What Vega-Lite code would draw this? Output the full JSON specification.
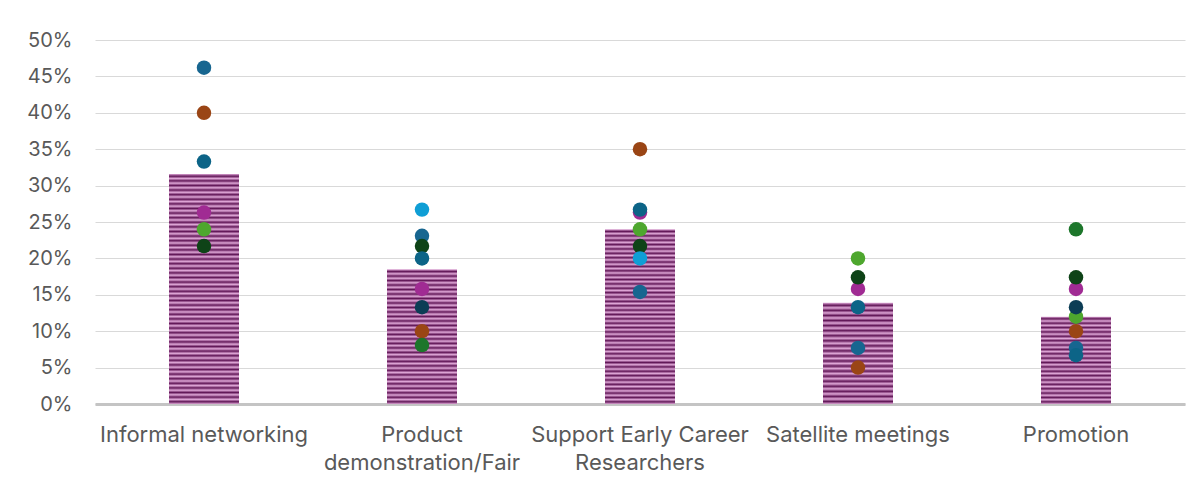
{
  "$schema": "https://vega.github.io/schema/vega-lite/v6.json",
  "width": 1090,
  "height": 364,
  "autosize": "none",
  "padding": {"left": 95, "top": 40, "right": 17, "bottom": 84},
  "background": "#ffffff",
  "config": {
    "view": {"stroke": null},
    "font": "Inter",
    "axis": {"labelFont": "Inter", "labelColor": "#595959", "titleColor": "#595959"}
  },
  "datasets": {
    "bars": [
      {"cat": "Informal networking", "pct": 0.316},
      {"cat": "Product demonstration/Fair", "pct": 0.185},
      {"cat": "Support Early Career Researchers", "pct": 0.24},
      {"cat": "Satellite meetings", "pct": 0.139},
      {"cat": "Promotion", "pct": 0.12}
    ],
    "dots": [
      {"cat": "Informal networking", "grp": "g1", "pct": 0.462},
      {"cat": "Product demonstration/Fair", "grp": "g1", "pct": 0.231},
      {"cat": "Support Early Career Researchers", "grp": "g1", "pct": 0.154},
      {"cat": "Satellite meetings", "grp": "g1", "pct": 0.077},
      {"cat": "Promotion", "grp": "g1", "pct": 0.077},
      {"cat": "Informal networking", "grp": "g2", "pct": 0.263},
      {"cat": "Product demonstration/Fair", "grp": "g2", "pct": 0.158},
      {"cat": "Support Early Career Researchers", "grp": "g2", "pct": 0.263},
      {"cat": "Satellite meetings", "grp": "g2", "pct": 0.158},
      {"cat": "Promotion", "grp": "g2", "pct": 0.158},
      {"cat": "Informal networking", "grp": "g3", "pct": 0.24},
      {"cat": "Support Early Career Researchers", "grp": "g3", "pct": 0.24},
      {"cat": "Satellite meetings", "grp": "g3", "pct": 0.2},
      {"cat": "Promotion", "grp": "g3", "pct": 0.12},
      {"cat": "Informal networking", "grp": "g4", "pct": 0.4},
      {"cat": "Product demonstration/Fair", "grp": "g4", "pct": 0.1},
      {"cat": "Support Early Career Researchers", "grp": "g4", "pct": 0.35},
      {"cat": "Satellite meetings", "grp": "g4", "pct": 0.05},
      {"cat": "Promotion", "grp": "g4", "pct": 0.1},
      {"cat": "Product demonstration/Fair", "grp": "g5", "pct": 0.081},
      {"cat": "Promotion", "grp": "g5", "pct": 0.24},
      {"cat": "Informal networking", "grp": "g6", "pct": 0.217},
      {"cat": "Product demonstration/Fair", "grp": "g6", "pct": 0.217},
      {"cat": "Support Early Career Researchers", "grp": "g6", "pct": 0.217},
      {"cat": "Satellite meetings", "grp": "g6", "pct": 0.174},
      {"cat": "Promotion", "grp": "g6", "pct": 0.174},
      {"cat": "Product demonstration/Fair", "grp": "g7", "pct": 0.133},
      {"cat": "Promotion", "grp": "g7", "pct": 0.133},
      {"cat": "Informal networking", "grp": "g8", "pct": 0.333},
      {"cat": "Product demonstration/Fair", "grp": "g8", "pct": 0.2},
      {"cat": "Support Early Career Researchers", "grp": "g8", "pct": 0.267},
      {"cat": "Satellite meetings", "grp": "g8", "pct": 0.133},
      {"cat": "Promotion", "grp": "g8", "pct": 0.067},
      {"cat": "Product demonstration/Fair", "grp": "g9", "pct": 0.267},
      {"cat": "Support Early Career Researchers", "grp": "g9", "pct": 0.2}
    ]
  },
  "encoding": {
    "x": {
      "field": "cat", "type": "nominal",
      "sort": ["Informal networking", "Product demonstration/Fair", "Support Early Career Researchers", "Satellite meetings", "Promotion"],
      "scale": {"paddingInner": 0, "paddingOuter": 0},
      "axis": {
        "title": null, "labelAngle": 0, "ticks": false, "labelFontSize": 22, "labelPadding": 20, "labelLineHeight": 28, "labelLimit": 0,
        "domainColor": "#c4c4c4", "domainWidth": 3,
        "labelExpr": "datum.label === 'Product demonstration/Fair' ? ['Product', 'demonstration/Fair'] : datum.label === 'Support Early Career Researchers' ? ['Support Early Career', 'Researchers'] : datum.label"
      }
    },
    "y": {
      "field": "pct", "type": "quantitative",
      "scale": {"domain": [0, 0.5], "nice": false},
      "axis": {
        "title": null, "format": ".0%", "values": [0, 0.05, 0.1, 0.15, 0.2, 0.25, 0.3, 0.35, 0.4, 0.45, 0.5],
        "domain": false, "ticks": false, "labelFontSize": 20, "labelPadding": 23,
        "gridColor": "#d9d9d9", "gridWidth": 1
      }
    }
  },
  "layer": [
    {
      "data": {"name": "bars"},
      "mark": {"type": "bar", "width": 70},
      "encoding": {
        "fill": {
          "condition": [
            {"test": "datum.cat === 'Informal networking'", "value": {"gradient": "linear", "x1": 0, "y1": 0, "x2": 0, "y2": 1, "stops": [
              {"offset":0,"color":"#e0a8d8"},{"offset":0.01,"color":"#621858"},{"offset":0.02,"color":"#e0a8d8"},{"offset":0.03,"color":"#621858"},{"offset":0.04,"color":"#e0a8d8"},{"offset":0.05,"color":"#621858"},{"offset":0.06,"color":"#e0a8d8"},{"offset":0.07,"color":"#621858"},{"offset":0.08,"color":"#e0a8d8"},{"offset":0.09,"color":"#621858"},
              {"offset":0.1,"color":"#e0a8d8"},{"offset":0.11,"color":"#621858"},{"offset":0.12,"color":"#e0a8d8"},{"offset":0.13,"color":"#621858"},{"offset":0.14,"color":"#e0a8d8"},{"offset":0.15,"color":"#621858"},{"offset":0.16,"color":"#e0a8d8"},{"offset":0.17,"color":"#621858"},{"offset":0.18,"color":"#e0a8d8"},{"offset":0.19,"color":"#621858"},
              {"offset":0.2,"color":"#e0a8d8"},{"offset":0.21,"color":"#621858"},{"offset":0.22,"color":"#e0a8d8"},{"offset":0.23,"color":"#621858"},{"offset":0.24,"color":"#e0a8d8"},{"offset":0.25,"color":"#621858"},{"offset":0.26,"color":"#e0a8d8"},{"offset":0.27,"color":"#621858"},{"offset":0.28,"color":"#e0a8d8"},{"offset":0.29,"color":"#621858"},
              {"offset":0.3,"color":"#e0a8d8"},{"offset":0.31,"color":"#621858"},{"offset":0.32,"color":"#e0a8d8"},{"offset":0.33,"color":"#621858"},{"offset":0.34,"color":"#e0a8d8"},{"offset":0.35,"color":"#621858"},{"offset":0.36,"color":"#e0a8d8"},{"offset":0.37,"color":"#621858"},{"offset":0.38,"color":"#e0a8d8"},{"offset":0.39,"color":"#621858"},
              {"offset":0.4,"color":"#e0a8d8"},{"offset":0.41,"color":"#621858"},{"offset":0.42,"color":"#e0a8d8"},{"offset":0.43,"color":"#621858"},{"offset":0.44,"color":"#e0a8d8"},{"offset":0.45,"color":"#621858"},{"offset":0.46,"color":"#e0a8d8"},{"offset":0.47,"color":"#621858"},{"offset":0.48,"color":"#e0a8d8"},{"offset":0.49,"color":"#621858"},
              {"offset":0.5,"color":"#e0a8d8"},{"offset":0.51,"color":"#621858"},{"offset":0.52,"color":"#e0a8d8"},{"offset":0.53,"color":"#621858"},{"offset":0.54,"color":"#e0a8d8"},{"offset":0.55,"color":"#621858"},{"offset":0.56,"color":"#e0a8d8"},{"offset":0.57,"color":"#621858"},{"offset":0.58,"color":"#e0a8d8"},{"offset":0.59,"color":"#621858"},
              {"offset":0.6,"color":"#e0a8d8"},{"offset":0.61,"color":"#621858"},{"offset":0.62,"color":"#e0a8d8"},{"offset":0.63,"color":"#621858"},{"offset":0.64,"color":"#e0a8d8"},{"offset":0.65,"color":"#621858"},{"offset":0.66,"color":"#e0a8d8"},{"offset":0.67,"color":"#621858"},{"offset":0.68,"color":"#e0a8d8"},{"offset":0.69,"color":"#621858"},
              {"offset":0.7,"color":"#e0a8d8"},{"offset":0.71,"color":"#621858"},{"offset":0.72,"color":"#e0a8d8"},{"offset":0.73,"color":"#621858"},{"offset":0.74,"color":"#e0a8d8"},{"offset":0.75,"color":"#621858"},{"offset":0.76,"color":"#e0a8d8"},{"offset":0.77,"color":"#621858"},{"offset":0.78,"color":"#e0a8d8"},{"offset":0.79,"color":"#621858"},
              {"offset":0.8,"color":"#e0a8d8"},{"offset":0.81,"color":"#621858"},{"offset":0.82,"color":"#e0a8d8"},{"offset":0.83,"color":"#621858"},{"offset":0.84,"color":"#e0a8d8"},{"offset":0.85,"color":"#621858"},{"offset":0.86,"color":"#e0a8d8"},{"offset":0.87,"color":"#621858"},{"offset":0.88,"color":"#e0a8d8"},{"offset":0.89,"color":"#621858"},
              {"offset":0.9,"color":"#e0a8d8"},{"offset":0.91,"color":"#621858"},{"offset":0.92,"color":"#e0a8d8"},{"offset":0.93,"color":"#621858"},{"offset":0.94,"color":"#e0a8d8"},{"offset":0.95,"color":"#621858"},{"offset":0.96,"color":"#e0a8d8"},{"offset":0.97,"color":"#621858"},{"offset":0.98,"color":"#e0a8d8"},{"offset":0.99,"color":"#621858"},
              {"offset":1,"color":"#e0a8d8"}]}},
            {"test": "datum.cat === 'Product demonstration/Fair'", "value": {"gradient": "linear", "x1": 0, "y1": 0, "x2": 0, "y2": 1, "stops": [
              {"offset":0,"color":"#e0a8d8"},{"offset":0.0167,"color":"#621858"},{"offset":0.0333,"color":"#e0a8d8"},{"offset":0.05,"color":"#621858"},{"offset":0.0667,"color":"#e0a8d8"},{"offset":0.0833,"color":"#621858"},
              {"offset":0.1,"color":"#e0a8d8"},{"offset":0.1167,"color":"#621858"},{"offset":0.1333,"color":"#e0a8d8"},{"offset":0.15,"color":"#621858"},{"offset":0.1667,"color":"#e0a8d8"},{"offset":0.1833,"color":"#621858"},
              {"offset":0.2,"color":"#e0a8d8"},{"offset":0.2167,"color":"#621858"},{"offset":0.2333,"color":"#e0a8d8"},{"offset":0.25,"color":"#621858"},{"offset":0.2667,"color":"#e0a8d8"},{"offset":0.2833,"color":"#621858"},
              {"offset":0.3,"color":"#e0a8d8"},{"offset":0.3167,"color":"#621858"},{"offset":0.3333,"color":"#e0a8d8"},{"offset":0.35,"color":"#621858"},{"offset":0.3667,"color":"#e0a8d8"},{"offset":0.3833,"color":"#621858"},
              {"offset":0.4,"color":"#e0a8d8"},{"offset":0.4167,"color":"#621858"},{"offset":0.4333,"color":"#e0a8d8"},{"offset":0.45,"color":"#621858"},{"offset":0.4667,"color":"#e0a8d8"},{"offset":0.4833,"color":"#621858"},
              {"offset":0.5,"color":"#e0a8d8"},{"offset":0.5167,"color":"#621858"},{"offset":0.5333,"color":"#e0a8d8"},{"offset":0.55,"color":"#621858"},{"offset":0.5667,"color":"#e0a8d8"},{"offset":0.5833,"color":"#621858"},
              {"offset":0.6,"color":"#e0a8d8"},{"offset":0.6167,"color":"#621858"},{"offset":0.6333,"color":"#e0a8d8"},{"offset":0.65,"color":"#621858"},{"offset":0.6667,"color":"#e0a8d8"},{"offset":0.6833,"color":"#621858"},
              {"offset":0.7,"color":"#e0a8d8"},{"offset":0.7167,"color":"#621858"},{"offset":0.7333,"color":"#e0a8d8"},{"offset":0.75,"color":"#621858"},{"offset":0.7667,"color":"#e0a8d8"},{"offset":0.7833,"color":"#621858"},
              {"offset":0.8,"color":"#e0a8d8"},{"offset":0.8167,"color":"#621858"},{"offset":0.8333,"color":"#e0a8d8"},{"offset":0.85,"color":"#621858"},{"offset":0.8667,"color":"#e0a8d8"},{"offset":0.8833,"color":"#621858"},
              {"offset":0.9,"color":"#e0a8d8"},{"offset":0.9167,"color":"#621858"},{"offset":0.9333,"color":"#e0a8d8"},{"offset":0.95,"color":"#621858"},{"offset":0.9667,"color":"#e0a8d8"},{"offset":0.9833,"color":"#621858"},
              {"offset":1,"color":"#e0a8d8"}]}},
            {"test": "datum.cat === 'Support Early Career Researchers'", "value": {"gradient": "linear", "x1": 0, "y1": 0, "x2": 0, "y2": 1, "stops": [
              {"offset":0,"color":"#e0a8d8"},{"offset":0.0125,"color":"#621858"},{"offset":0.025,"color":"#e0a8d8"},{"offset":0.0375,"color":"#621858"},{"offset":0.05,"color":"#e0a8d8"},{"offset":0.0625,"color":"#621858"},{"offset":0.075,"color":"#e0a8d8"},{"offset":0.0875,"color":"#621858"},
              {"offset":0.1,"color":"#e0a8d8"},{"offset":0.1125,"color":"#621858"},{"offset":0.125,"color":"#e0a8d8"},{"offset":0.1375,"color":"#621858"},{"offset":0.15,"color":"#e0a8d8"},{"offset":0.1625,"color":"#621858"},{"offset":0.175,"color":"#e0a8d8"},{"offset":0.1875,"color":"#621858"},
              {"offset":0.2,"color":"#e0a8d8"},{"offset":0.2125,"color":"#621858"},{"offset":0.225,"color":"#e0a8d8"},{"offset":0.2375,"color":"#621858"},{"offset":0.25,"color":"#e0a8d8"},{"offset":0.2625,"color":"#621858"},{"offset":0.275,"color":"#e0a8d8"},{"offset":0.2875,"color":"#621858"},
              {"offset":0.3,"color":"#e0a8d8"},{"offset":0.3125,"color":"#621858"},{"offset":0.325,"color":"#e0a8d8"},{"offset":0.3375,"color":"#621858"},{"offset":0.35,"color":"#e0a8d8"},{"offset":0.3625,"color":"#621858"},{"offset":0.375,"color":"#e0a8d8"},{"offset":0.3875,"color":"#621858"},
              {"offset":0.4,"color":"#e0a8d8"},{"offset":0.4125,"color":"#621858"},{"offset":0.425,"color":"#e0a8d8"},{"offset":0.4375,"color":"#621858"},{"offset":0.45,"color":"#e0a8d8"},{"offset":0.4625,"color":"#621858"},{"offset":0.475,"color":"#e0a8d8"},{"offset":0.4875,"color":"#621858"},
              {"offset":0.5,"color":"#e0a8d8"},{"offset":0.5125,"color":"#621858"},{"offset":0.525,"color":"#e0a8d8"},{"offset":0.5375,"color":"#621858"},{"offset":0.55,"color":"#e0a8d8"},{"offset":0.5625,"color":"#621858"},{"offset":0.575,"color":"#e0a8d8"},{"offset":0.5875,"color":"#621858"},
              {"offset":0.6,"color":"#e0a8d8"},{"offset":0.6125,"color":"#621858"},{"offset":0.625,"color":"#e0a8d8"},{"offset":0.6375,"color":"#621858"},{"offset":0.65,"color":"#e0a8d8"},{"offset":0.6625,"color":"#621858"},{"offset":0.675,"color":"#e0a8d8"},{"offset":0.6875,"color":"#621858"},
              {"offset":0.7,"color":"#e0a8d8"},{"offset":0.7125,"color":"#621858"},{"offset":0.725,"color":"#e0a8d8"},{"offset":0.7375,"color":"#621858"},{"offset":0.75,"color":"#e0a8d8"},{"offset":0.7625,"color":"#621858"},{"offset":0.775,"color":"#e0a8d8"},{"offset":0.7875,"color":"#621858"},
              {"offset":0.8,"color":"#e0a8d8"},{"offset":0.8125,"color":"#621858"},{"offset":0.825,"color":"#e0a8d8"},{"offset":0.8375,"color":"#621858"},{"offset":0.85,"color":"#e0a8d8"},{"offset":0.8625,"color":"#621858"},{"offset":0.875,"color":"#e0a8d8"},{"offset":0.8875,"color":"#621858"},
              {"offset":0.9,"color":"#e0a8d8"},{"offset":0.9125,"color":"#621858"},{"offset":0.925,"color":"#e0a8d8"},{"offset":0.9375,"color":"#621858"},{"offset":0.95,"color":"#e0a8d8"},{"offset":0.9625,"color":"#621858"},{"offset":0.975,"color":"#e0a8d8"},{"offset":0.9875,"color":"#621858"},
              {"offset":1,"color":"#e0a8d8"}]}}
          ],
          "value": {"gradient": "linear", "x1": 0, "y1": 0, "x2": 0, "y2": 1, "stops": [
            {"offset":0,"color":"#e0a8d8"},{"offset":0.025,"color":"#621858"},{"offset":0.05,"color":"#e0a8d8"},{"offset":0.075,"color":"#621858"},
            {"offset":0.1,"color":"#e0a8d8"},{"offset":0.125,"color":"#621858"},{"offset":0.15,"color":"#e0a8d8"},{"offset":0.175,"color":"#621858"},
            {"offset":0.2,"color":"#e0a8d8"},{"offset":0.225,"color":"#621858"},{"offset":0.25,"color":"#e0a8d8"},{"offset":0.275,"color":"#621858"},
            {"offset":0.3,"color":"#e0a8d8"},{"offset":0.325,"color":"#621858"},{"offset":0.35,"color":"#e0a8d8"},{"offset":0.375,"color":"#621858"},
            {"offset":0.4,"color":"#e0a8d8"},{"offset":0.425,"color":"#621858"},{"offset":0.45,"color":"#e0a8d8"},{"offset":0.475,"color":"#621858"},
            {"offset":0.5,"color":"#e0a8d8"},{"offset":0.525,"color":"#621858"},{"offset":0.55,"color":"#e0a8d8"},{"offset":0.575,"color":"#621858"},
            {"offset":0.6,"color":"#e0a8d8"},{"offset":0.625,"color":"#621858"},{"offset":0.65,"color":"#e0a8d8"},{"offset":0.675,"color":"#621858"},
            {"offset":0.7,"color":"#e0a8d8"},{"offset":0.725,"color":"#621858"},{"offset":0.75,"color":"#e0a8d8"},{"offset":0.775,"color":"#621858"},
            {"offset":0.8,"color":"#e0a8d8"},{"offset":0.825,"color":"#621858"},{"offset":0.85,"color":"#e0a8d8"},{"offset":0.875,"color":"#621858"},
            {"offset":0.9,"color":"#e0a8d8"},{"offset":0.925,"color":"#621858"},{"offset":0.95,"color":"#e0a8d8"},{"offset":0.975,"color":"#621858"},
            {"offset":1,"color":"#e0a8d8"}]}
        }
      }
    },
    {
      "data": {"name": "dots"},
      "mark": {"type": "circle", "size": 210, "opacity": 1},
      "encoding": {
        "color": {
          "field": "grp", "type": "nominal", "legend": null,
          "scale": {
            "domain": ["g1", "g2", "g3", "g4", "g5", "g6", "g7", "g8", "g9"],
            "range": ["#176690", "#a02b93", "#4ea72e", "#9a4515", "#1d762b", "#0e4317", "#0c3d55", "#0c6487", "#0f9ed5"]
          }
        }
      }
    }
  ]
}
